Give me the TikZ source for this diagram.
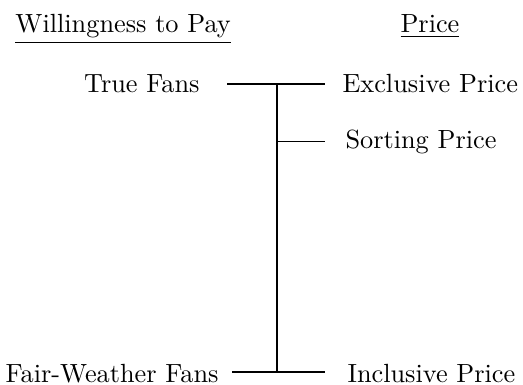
\documentclass[tikz,border=0pt]{standalone}
\usetikzlibrary{positioning}
\tikzset{
  lbl/.style={inner sep=0pt},
}
\begin{document}
\begin{tikzpicture}
  \useasboundingbox (0,0) rectangle (6.992,5.147);

  \node[lbl, anchor=base west] (wtp) at (0.200, 4.706) {\underline{Willingness to Pay}};
  \node[lbl, anchor=base west] (price) at (5.348, 4.706) {\underline{Price}};

  \coordinate (top) at (3.703, 4.024);
  \coordinate (mid) at (3.703, 3.249);
  \coordinate (bot) at (3.703, 0.174);
  \coordinate (topl) at (3.035, 4.024);
  \coordinate (topr) at (4.345, 4.024);
  \coordinate (midr) at (4.345, 3.249);
  \coordinate (botl) at (3.102, 0.174);
  \coordinate (botr) at (4.345, 0.174);

  \draw (top) -- (bot);
  \draw (topl) -- (topr);
  \draw (mid) -- (midr);
  \draw (botl) -- (botr);

  \node[lbl, anchor=base east] (truefans) at (2.674, 3.904) {True Fans};
  \node[lbl, anchor=base east] (fairfans) at (2.928, 0.040) {Fair-Weather Fans};
  \node[lbl, anchor=base west] (excl) at (4.572, 3.904) {Exclusive Price};
  \node[lbl, anchor=base west] (sort) at (4.612, 3.168) {Sorting Price};
  \node[lbl, anchor=base west] (incl) at (4.639, 0.040) {Inclusive Price};
\end{tikzpicture}
\end{document}
